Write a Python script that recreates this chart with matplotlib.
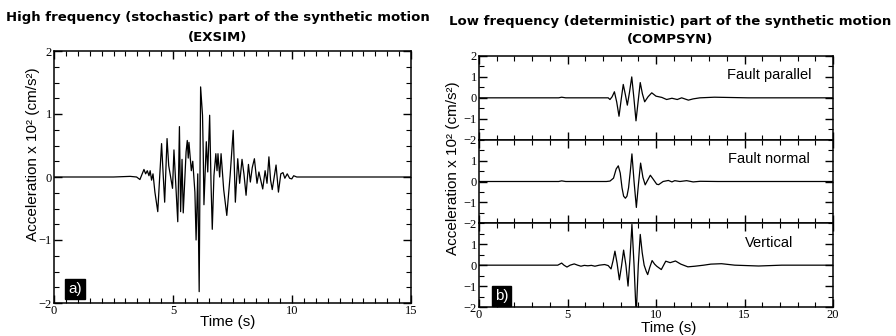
import matplotlib.pyplot as plt
import numpy as np
from matplotlib.ticker import MultipleLocator

# high frequency part (EXSIM) - time (s), acceleration (x10^2 cm/s^2)
hf_t = [0.0, 2.5, 3.2, 3.47, 3.61, 3.78, 3.85, 3.92, 3.99, 4.04, 4.1, 4.16, 4.24, 4.36, 4.44,
        4.52, 4.59, 4.65, 4.75, 4.82, 4.9, 4.98, 5.04, 5.2, 5.27, 5.32, 5.38, 5.43, 5.55, 5.6,
        5.64, 5.67, 5.77, 5.83, 5.92, 5.97, 6.04, 6.1, 6.16, 6.24, 6.27, 6.3, 6.4, 6.46, 6.54,
        6.6, 6.65, 6.72, 6.8, 6.85, 6.89, 6.96, 7.02, 7.13, 7.26, 7.4, 7.53, 7.62, 7.72, 7.8,
        7.9, 7.98, 8.07, 8.17, 8.25, 8.33, 8.42, 8.53, 8.61, 8.77, 8.87, 8.95, 9.03, 9.1, 9.17,
        9.33, 9.43, 9.53, 9.62, 9.7, 9.8, 9.9, 9.99, 10.07, 10.2, 15.0]
hf_a = [0.0, 0.0, 0.01, 0.0, -0.04, 0.12, 0.05, 0.1, 0.02, 0.1, -0.05, 0.05, -0.24, -0.55, 0.0,
        0.53, 0.02, -0.4, 0.61, 0.18, 0.0, -0.18, 0.43, -0.71, 0.8, -0.55, 0.28, -0.57, 0.4, 0.58,
        0.3, 0.55, 0.1, 0.25, -0.24, -1.0, 0.05, -1.82, 1.43, 0.98, 0.4, -0.44, 0.56, 0.08, 0.98,
        -0.14, -0.83, 0.02, 0.37, 0.1, 0.37, 0.0, 0.37, -0.2, -0.61, 0.02, 0.74, -0.4, 0.29, -0.1,
        0.28, 0.05, -0.29, 0.2, -0.08, 0.15, 0.29, -0.1, 0.08, -0.19, 0.1, -0.1, 0.32, -0.05, -0.2,
        0.19, -0.24, 0.05, 0.07, -0.02, 0.05, -0.02, -0.03, 0.02, 0.0, 0.0]

# low frequency part (COMPSYN), one time axis per component
fp_t = [0.0, 4.5, 4.67, 4.9, 7.1, 7.3, 7.4, 7.52, 7.65, 7.78, 7.91, 8.03, 8.15, 8.27, 8.38,
        8.5, 8.63, 8.75, 8.87, 9.0, 9.11, 9.23, 9.36, 9.55, 9.76, 10.0, 10.33, 10.6, 10.9, 11.2,
        11.45, 11.83, 12.1, 12.48, 13.3, 15.2, 20.0]
fp_a = [0.0, 0.0, 0.03, 0.0, 0.0, 0.0, -0.08, 0.05, 0.29, -0.2, -0.88, -0.1, 0.64, 0.15, -0.35,
        0.25, 1.0, 0.0, -1.1, -0.1, 0.73, 0.2, -0.19, 0.05, 0.24, 0.08, 0.02, -0.08, -0.02, -0.08,
        0.0, -0.11, -0.05, 0.0, 0.03, 0.0, 0.0]

fn_t = [0.0, 4.5, 4.67, 4.9, 7.2, 7.4, 7.6, 7.75, 7.87, 7.98, 8.08, 8.17, 8.27, 8.36, 8.45,
        8.55, 8.64, 8.76, 8.89, 9.0, 9.13, 9.26, 9.39, 9.52, 9.68, 9.85, 10.04, 10.15, 10.4,
        10.7, 10.9, 11.06, 11.35, 11.73, 12.1, 12.5, 13.5, 20.0]
fn_a = [0.0, 0.0, 0.03, 0.0, 0.0, 0.02, 0.16, 0.6, 0.75, 0.4, -0.3, -0.7, -0.8, -0.7, -0.3,
        0.5, 1.32, 0.0, -1.24, -0.2, 0.88, 0.2, -0.16, 0.05, 0.3, 0.1, -0.13, -0.15, 0.0,
        0.05, -0.02, 0.04, 0.0, 0.04, -0.02, 0.01, 0.0, 0.0]

vt_t = [0.0, 4.45, 4.67, 4.8, 4.97, 5.15, 5.38, 5.57, 5.76, 5.95, 6.15, 6.35, 6.55, 6.8, 7.1,
        7.3, 7.46, 7.57, 7.68, 7.8, 7.93, 8.05, 8.17, 8.3, 8.42, 8.53, 8.64, 8.76, 8.88, 9.0,
        9.11, 9.22, 9.33, 9.45, 9.53, 9.65, 9.78, 9.92, 10.04, 10.3, 10.55, 10.8, 11.1, 11.4,
        11.8, 12.2, 12.7, 13.1, 13.7, 14.45, 15.8, 17.1, 20.0]
vt_a = [0.0, 0.0, 0.1, 0.0, -0.09, 0.0, 0.06, 0.0, -0.05, -0.01, -0.03, -0.01, -0.05, 0.0, 0.03,
        -0.02, -0.18, 0.2, 0.67, 0.1, -0.7, -0.05, 0.72, 0.0, -1.0, 0.3, 1.95, 0.0, -2.4, 0.0,
        1.47, 0.6, 0.0, -0.3, -0.45, -0.1, 0.22, 0.05, -0.05, -0.21, 0.19, 0.12, 0.2, 0.05,
        -0.08, -0.05, 0.0, 0.05, 0.07, 0.0, -0.04, 0.0, 0.0]

lf_times = [fp_t, fn_t, vt_t]
lf_series = [fp_a, fn_a, vt_a]
lf_names = ['Fault parallel', 'Fault normal', 'Vertical']

W, H = 896, 336
fig = plt.figure(figsize=(W / 100, H / 100), dpi=100)

tickfont = dict(family='Liberation Serif', size=9)
labfont = dict(family='Liberation Sans', size=11)


def style(ax, xmin, xmaj, ymin, ymaj):
    ax.xaxis.set_major_locator(MultipleLocator(xmaj))
    ax.xaxis.set_minor_locator(MultipleLocator(xmin))
    ax.yaxis.set_major_locator(MultipleLocator(ymaj))
    ax.yaxis.set_minor_locator(MultipleLocator(ymin))
    ax.tick_params(which='both', direction='in', top=True, right=True, pad=1.5)
    ax.tick_params(which='major', length=6, width=1)
    ax.tick_params(which='minor', length=3.5, width=0.8)
    for s in ax.spines.values():
        s.set_linewidth(1.1)
    for lab in ax.get_xticklabels() + ax.get_yticklabels():
        lab.set_fontfamily(tickfont['family'])
        lab.set_fontsize(tickfont['size'])


# left panel
axL = fig.add_axes([54 / W, 1 - 303 / H, 357 / W, 252 / H])
axL.plot(hf_t, hf_a, color='black', lw=0.9)
axL.set_xlim(0, 15)
axL.set_ylim(-2, 2)
style(axL, 0.5, 5, 0.25, 1)
axL.text(0.04, 0.04, 'a)', transform=axL.transAxes, color='white', fontsize=11,
         family='Liberation Sans', bbox=dict(facecolor='black', edgecolor='black', pad=2.2))

# right panels
ph = 251 / 3
axes_r = []
for i in range(3):
    bottom = (H - 307 + (2 - i) * ph) / H
    ax = fig.add_axes([479 / W, bottom, 354 / W, ph / H])
    ax.plot(lf_times[i], lf_series[i], color='black', lw=0.9)
    ax.set_xlim(0, 20)
    ax.set_ylim(-2, 2)
    style(ax, 1, 5, 0.5, 1)
    if i == 0:
        ax.set_yticks([-2, -1, 0, 1, 2])
    else:
        ax.set_yticks([-2, -1, 0, 1])
    ax.set_yticklabels([str(v).replace('-', '\u2212') for v in ax.get_yticks().astype(int)],
                       **tickfont)
    if i < 2:
        ax.tick_params(labelbottom=False)
    ax.text(0.82, 0.77, lf_names[i], transform=ax.transAxes, ha='center', va='center',
            fontsize=10.5, family='Liberation Sans')
    axes_r.append(ax)
axes_r[2].text(0.045, 0.08, 'b)', transform=axes_r[2].transAxes, color='white', fontsize=11,
               family='Liberation Sans', bbox=dict(facecolor='black', edgecolor='black', pad=2.2))

# titles and labels
fig.text(218 / W, 1 - 18 / H, 'High frequency (stochastic) part of the synthetic motion',
         ha='center', va='center', fontsize=9.5, fontweight='bold')
fig.text(218 / W, 1 - 37 / H, '(EXSIM)', ha='center', va='center', fontsize=9.5,
         fontweight='bold')
fig.text(670 / W, 1 - 22 / H, 'Low frequency (deterministic) part of the synthetic motion',
         ha='center', va='center', fontsize=9.5, fontweight='bold')
fig.text(670 / W, 1 - 40 / H, '(COMPSYN)', ha='center', va='center', fontsize=9.5,
         fontweight='bold')
ylab = 'Acceleration x 10\u00b2 (cm/s\u00b2)'
fig.text(33 / W, 1 - 154 / H, ylab, rotation=90, ha='center', va='center', **labfont)
fig.text(453 / W, 1 - 168 / H, ylab, rotation=90, ha='center', va='center', **labfont)
fig.text(228 / W, 1 - 322 / H, 'Time (s)', ha='center', va='center', **labfont)
fig.text(669 / W, 1 - 328 / H, 'Time (s)', ha='center', va='center', **labfont)

fig.savefig('out.png', dpi=100)
